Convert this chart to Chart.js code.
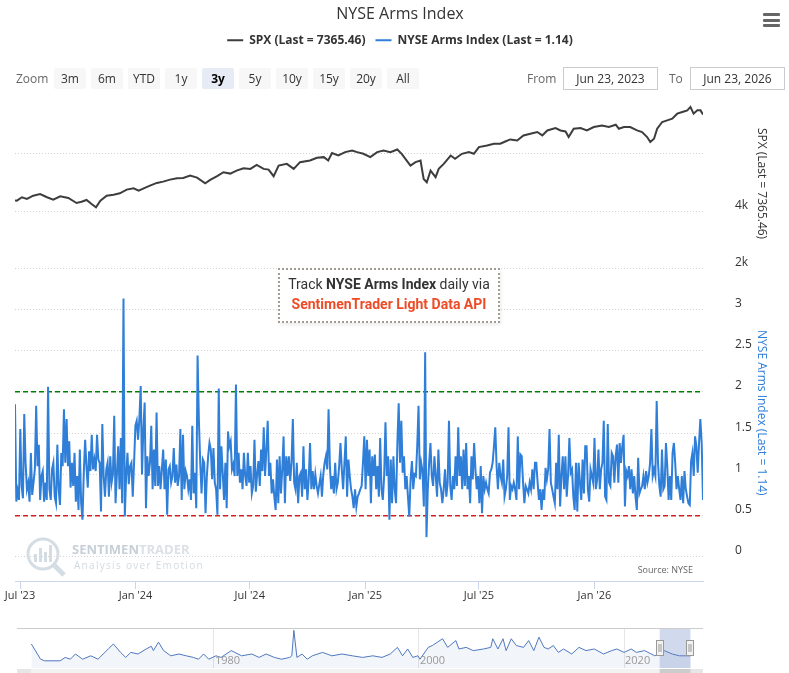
<!DOCTYPE html>
<html>
<head>
<meta charset="utf-8">
<title>NYSE Arms Index</title>
<script src="https://cdn.jsdelivr.net/npm/chart.js@4.4.1/dist/chart.umd.min.js"></script>
<style>
  body { margin: 0; background: #fff; font-family: 'Open Sans', sans-serif; }
  #wrap { position: relative; width: 789px; height: 673px; overflow: hidden; }
  #main { position: absolute; left: 0; top: 0; }
  #nav { position: absolute; left: 0; top: 624px; }
  #menu { position: absolute; left: 763px; top: 13px; width: 17px; }
  #menu span { display: block; height: 3px; background: #666; margin-bottom: 2.5px; border-radius: 1px; }
  .lbl { position: absolute; top: 68px; height: 21px; line-height: 21px; font-size: 12px; color: #666; }
  #zoomBtns { position: absolute; left: 54px; top: 68px; display: flex; gap: 5px; }
  #zoomBtns div { width: 32px; height: 21px; line-height: 21px; text-align: center; font-size: 12px; color: #333; background: #f7f7f7; border-radius: 2px; }
  #zoomBtns div.on { background: #e6ebf5; font-weight: bold; color: #000; }
  .inp { position: absolute; top: 67px; width: 93px; height: 21px; line-height: 21px; border: 1px solid #ccc; font-size: 12px; color: #333; text-align: center; }
  #note { position: absolute; left: 278px; top: 268px; width: 218px; height: 47px; border: 2px dotted #a39c93; background: #fff;
          box-shadow: 1px 2px 4px rgba(0,0,0,0.08); font-family: Roboto, sans-serif; font-size: 14px; text-align: center; line-height: 20px;
          padding-top: 4px; white-space: nowrap; box-sizing: content-box; }
  #note .l1 { color: #333; }
  #note .l2 { color: #ee4b26; font-weight: bold; }
</style>
</head>
<body>
<div id="wrap">
  <canvas id="main" width="789" height="673"></canvas>
  <canvas id="nav" width="789" height="49"></canvas>
  <div id="menu"><span></span><span></span><span></span></div>
  <div class="lbl" style="left:16px">Zoom</div>
  <div id="zoomBtns"></div>
  <div class="lbl" style="left:527px">From</div>
  <div class="inp" style="left:563px">Jun 23, 2023</div>
  <div class="lbl" style="left:669px">To</div>
  <div class="inp" style="left:690px">Jun 23, 2026</div>
  <div id="note"><div class="l1">Track <b>NYSE Arms Index</b> daily via</div><div class="l2">SentimenTrader Light Data API</div></div>
</div>
<script>
// range shown in the main panes
const rangeStart = '2023-06-23';
const rangeEnd = '2026-06-23';

const zoomButtons = ['3m', '6m', 'YTD', '1y', '3y', '5y', '10y', '15y', '20y', 'All'];
const activeZoom = '3y';

const xTickDates = ['2023-07-01', '2024-01-01', '2024-07-01', '2025-01-01', '2025-07-01', '2026-01-01'];
const xTickLabels = ["Jul '23", "Jan '24", "Jul '24", "Jan '25", "Jul '25", "Jan '26"];

const spxTicks = [2000, 4000, 6000];
const spxTickLabels = ['2k', '4k', ''];
const armsTicks = [0, 0.5, 1, 1.5, 2, 2.5, 3];
const armsTickLabels = ['0', '0.5', '1', '1.5', '2', '2.5', '3'];

const highLevel = 2.0;
const lowLevel = 0.5;

// SPX close, day offset from rangeStart
const spxDay = [0,3,11,19,29,40,51,61,72,85,98,106,114,122,129,136,146,157,167,178,189,197,205,215,226,236,247,258,268,279,
  290,303,311,322,332,343,353,364,375,385,396,404,412,420,433,444,454,470,481,492,499,505,515,526,537,545,555,566,577,587,
  598,609,616,624,630,638,646,651,656,662,670,675,683,694,701,712,723,731,739,752,763,773,781,789,800,810,821,832,840,848,
  861,869,877,882,890,901,911,922,935,946,957,962,970,980,991,999,1007,1012,1018,1023,1031,1039,1047,1055,1063,1071,1076,1081,1087,1092,1096];
const spxValue = [4380,4370,4489,4430,4545,4600,4489,4405,4524,4464,4290,4335,4394,4255,4140,4370,4545,4580,4628,4755,
  4800,4720,4800,4893,4988,5033,5103,5152,5162,5243,5173,4977,5093,5221,5361,5312,5417,5500,5476,5616,
  5476,5452,5221,5592,5651,5476,5710,5766,5860,5884,5766,6024,5941,6059,6115,6059,6000,5884,6059,6115,
  6059,6150,6000,5766,5592,5710,5766,5127,5012,5417,5187,5476,5651,5941,5825,6000,6059,6000,6234,6290,
  6349,6349,6429,6500,6464,6639,6698,6757,6639,6813,6897,6813,6778,6583,6872,6897,6813,6932,6988,6932,
  7012,6872,6932,6932,6813,6757,6583,6408,6524,6872,7106,7162,7222,7396,7455,7511,7630,7396,7511,7511,7365];

// NYSE Arms Index (TRIN), sampled evenly across the range
const armsValue = [
  // Jun 2023 - Dec 2023
  1.85,0.67,0.80,0.69,1.55,0.86,0.71,1.73,1.14,0.82,0.90,0.67,1.26,0.75,0.90,1.06,1.83,1.10,1.36,0.69,0.98,1.04,0.67,0.90,0.69,2.06,
  0.82,0.69,1.06,1.14,0.73,0.65,1.36,0.82,0.63,1.26,1.10,1.79,1.14,1.67,1.10,1.40,0.84,1.14,0.86,1.26,0.67,0.98,0.57,1.30,0.65,0.45,
  1.02,1.42,1.10,0.84,1.28,1.04,1.48,1.06,1.18,1.04,1.48,1.18,1.14,0.55,1.61,0.98,0.73,1.06,1.14,0.73,1.22,0.90,1.00,1.71,0.65,1.00,
  1.34,0.82,1.44,0.65,3.13,0.49,0.98,1.26,0.88,1.10,1.14,0.73,1.14,1.59,1.65,1.42,1.67,2.07,1.00,1.55,1.87,0.59,1.22,0.98,1.14,1.59,
  0.82,1.30,0.86,1.75,0.86,1.10,0.82,1.06,1.30,0.82,1.18,0.51,1.06,1.10,0.90,0.98,1.32,0.90,1.12,0.86,0.98,1.55,0.69,1.48,0.82,1.04,
  // 2024
  0.98,0.82,0.94,0.69,1.59,0.77,1.02,0.59,2.44,1.65,1.14,0.77,1.18,1.14,0.53,0.98,1.22,1.38,1.30,0.94,1.32,0.90,0.82,0.51,2.04,0.82,
  1.34,1.02,0.69,1.14,0.59,1.52,1.34,1.40,1.06,1.12,0.98,2.09,0.98,1.26,0.90,1.06,0.82,1.26,0.98,0.86,1.26,0.90,1.10,0.77,0.86,1.42,
  0.79,1.00,1.16,0.86,1.30,1.04,1.57,0.98,1.30,1.65,0.98,1.14,0.77,0.94,0.73,0.57,1.18,0.65,1.22,0.77,1.06,1.46,0.65,1.22,0.98,1.22,
  0.92,1.14,1.67,0.90,0.82,1.14,0.65,0.98,1.02,0.73,1.34,0.82,1.06,0.69,0.94,1.38,0.82,1.04,0.82,1.00,0.86,0.77,0.88,0.98,0.73,1.00,
  1.14,1.22,1.06,1.79,1.10,0.82,0.98,0.77,1.14,0.82,0.90,1.10,1.38,1.06,0.82,1.14,1.46,0.73,1.18,0.98,0.82,0.73,0.59,0.82,0.61,0.73,0.77,0.82,
  // Dec 2024 - Oct 2025
  0.86,1.14,1.46,0.82,1.42,0.98,1.30,0.65,1.22,0.98,1.24,0.82,1.10,0.73,1.44,0.82,0.69,0.98,1.63,0.98,1.22,0.45,1.18,0.65,1.22,0.82,
  0.65,1.38,1.86,1.14,1.65,1.02,1.22,0.82,0.98,0.73,0.49,0.94,1.16,0.82,1.00,0.98,1.34,1.83,0.94,1.14,1.04,0.61,2.48,0.24,0.82,1.14,
  1.38,0.98,0.86,1.22,0.98,0.73,1.30,0.90,0.82,0.65,0.82,1.06,0.73,0.90,1.65,0.86,0.69,0.98,0.82,1.22,0.86,1.57,0.98,1.22,0.82,1.30,
  0.86,1.38,0.82,0.98,0.65,1.22,0.94,1.38,1.06,0.82,0.98,0.65,1.10,0.53,0.98,0.82,0.90,0.82,0.77,1.02,1.06,1.14,1.34,1.57,1.10,0.82,
  1.14,0.98,0.90,1.18,0.73,0.82,0.98,1.57,0.69,0.86,0.82,0.90,0.82,0.69,1.46,0.82,1.24,1.22,0.90,0.65,0.86,0.82,0.77,0.90,0.82,1.06,0.82,1.14,
  // Oct 2025 - Jun 2026
  1.14,0.90,0.69,0.82,0.57,0.82,0.69,1.08,0.94,1.06,1.55,0.90,0.82,0.73,0.65,1.14,0.82,1.48,0.61,0.98,1.22,0.82,1.22,0.73,0.98,1.44,
  1.02,1.06,0.73,0.57,1.14,0.55,1.14,0.90,0.69,1.18,0.77,1.34,1.34,0.82,0.67,1.06,0.98,0.90,1.44,0.82,0.94,1.30,0.82,1.06,1.14,1.65,
  0.73,0.69,1.61,0.90,0.86,1.26,1.22,0.90,1.22,1.36,0.90,1.38,1.14,1.34,1.48,0.61,1.04,0.98,1.10,0.82,1.06,0.77,0.98,0.73,0.57,1.20,
  0.77,0.82,0.86,0.98,0.82,1.04,0.90,0.98,1.14,1.55,0.98,1.06,0.98,1.89,1.14,0.86,0.73,1.30,0.82,0.86,1.38,1.10,0.69,0.98,0.69,1.26,
  1.38,1.14,0.82,0.98,0.82,0.69,0.98,0.65,1.04,0.82,0.73,0.65,0.63,1.16,1.26,0.98,1.46,1.34,1.02,1.38,1.67,1.38,0.69
];

// navigator: long history of the index (smoothed), by year
const navYear = [1962.2,1963.1,1963.5,1965.0,1965.5,1966.0,1966.5,1967.2,1968.0,1968.7,1969.7,1970.2,1970.9,1971.4,1971.9,1972.6,1973.4,1973.9,1974.1,1974.6,
  1975.1,1975.8,1976.6,1977.3,1978.0,1978.5,1979.0,1979.5,1980.2,1980.7,1981.7,1982.7,1983.7,1984.4,1985.1,1985.9,1986.6,1987.4,1987.6,1987.8,
  1988.1,1988.6,1989.1,1989.6,1990.6,1991.5,1992.5,1993.5,1994.5,1995.5,1996.4,1997.2,1997.9,1998.4,1998.9,1999.4,1999.9,2000.1,2000.9,2001.3,
  2002.3,2002.8,2003.6,2003.9,2004.6,2005.3,2006.3,2007.0,2007.2,2007.7,2008.2,2008.5,2009.0,2009.5,2010.2,2010.7,2011.2,2011.7,2012.2,2012.6,
  2013.1,2013.6,2014.1,2014.9,2015.6,2016.3,2017.1,2018.0,2018.8,2019.3,2020.0,2020.7,2021.2,2022.0,2023.0,2023.9,2024.7,2025.4,2026.0,2026.5];
const navValue = [1.74,0.89,0.80,0.80,0.99,0.89,1.18,0.89,1.08,0.89,1.46,1.74,1.27,0.99,1.27,1.18,1.46,1.61,1.37,1.84,
  1.37,1.08,1.18,1.08,0.99,0.89,1.18,0.89,1.08,0.99,1.37,1.08,1.18,0.99,1.18,0.99,0.89,0.99,1.08,2.50,
  0.99,1.18,0.89,1.08,1.27,1.08,1.18,1.08,0.99,1.08,0.99,1.18,1.55,1.08,1.46,0.99,1.08,0.89,1.55,1.65,
  2.03,1.55,1.93,1.46,1.55,1.37,1.46,1.55,2.03,1.46,2.03,1.37,2.03,1.65,1.55,1.93,1.37,2.12,1.55,1.46,
  1.65,1.27,1.46,1.18,1.55,1.37,1.46,1.18,1.37,1.46,1.27,1.46,1.27,1.37,1.08,1.37,1.18,1.08,1.08,1.08];
const navTicks = [1980, 2000, 2020];

const FONT = "'Open Sans', sans-serif";
Chart.defaults.font.family = FONT;

const DAY = 86400000;
function dayOf(s) { return (Date.parse(s) - Date.parse(rangeStart)) / DAY; }
const span = dayOf(rangeEnd);
const xTickDays = xTickDates.map(dayOf);

// range selector buttons
const btnBox = document.getElementById('zoomBtns');
zoomButtons.forEach(b => {
  const el = document.createElement('div');
  el.textContent = b;
  if (b === activeZoom) el.className = 'on';
  btnBox.appendChild(el);
});

const spxPoints = spxDay.map((d, i) => ({ x: d, y: spxValue[i] }));
const armsPoints = armsValue.map((v, i) => ({ x: i * span / (armsValue.length - 1), y: v }));

// push the plot area below the legend to leave room for the zoom row
const legendGap = {
  id: 'legendGap',
  beforeInit(chart) {
    const fit = chart.legend.fit;
    chart.legend.fit = function () {
      fit.call(this);
      this.height += 42;
    };
  }
};

// faint logo watermark and source note
const brand = {
  id: 'brand',
  beforeDatasetsDraw(chart) {
    const ctx = chart.ctx;
    ctx.save();
    ctx.strokeStyle = '#d5dde4';
    ctx.fillStyle = '#d5dde4';
    ctx.lineWidth = 3;
    ctx.beginPath();
    ctx.arc(43, 554, 15, 0, Math.PI * 2);
    ctx.stroke();
    [[35, 8], [40, 14], [45, 10], [50, 17]].forEach(([x, h]) => ctx.fillRect(x - 1, 562 - h, 3, h));
    ctx.lineWidth = 5;
    ctx.beginPath();
    ctx.moveTo(54, 565);
    ctx.lineTo(64, 575);
    ctx.stroke();
    ctx.textBaseline = 'middle';
    ctx.font = 'bold 13px ' + FONT;
    ctx.fillStyle = '#c7d0d8';
    ctx.fillText('SENTIMEN', 72, 550);
    const w = ctx.measureText('SENTIMEN').width;
    ctx.fillStyle = '#dbe1e6';
    ctx.fillText('TRADER', 72 + w, 550);
    ctx.font = '10px ' + FONT;
    ctx.letterSpacing = '1.3px';
    ctx.fillStyle = '#d3dae0';
    ctx.fillText('Analysis over Emotion', 74, 566);
    ctx.restore();
  },
  afterDatasetsDraw(chart) {
    const ctx = chart.ctx;
    ctx.save();
    ctx.font = '9px ' + FONT;
    ctx.fillStyle = '#666';
    ctx.textAlign = 'right';
    ctx.textBaseline = 'middle';
    ctx.fillText('Source: NYSE', 693, 570);
    ctx.restore();
  }
};

const gridDots = { color: '#d2d2d2', drawTicks: false };

new Chart(document.getElementById('main'), {
  type: 'line',
  data: {
    datasets: [
      { label: 'SPX (Last = 7365.46)', data: spxPoints, yAxisID: 'ySpx', borderColor: '#3d3d3d', backgroundColor: '#3d3d3d', borderWidth: 2, pointRadius: 0 },
      { label: 'NYSE Arms Index (Last = 1.14)', data: armsPoints, yAxisID: 'yArms', borderColor: '#2f7ed8', backgroundColor: '#2f7ed8', borderWidth: 2, pointRadius: 0 },
      { label: 'high', data: [{ x: 0, y: highLevel }, { x: span, y: highLevel }], yAxisID: 'yArms', borderColor: '#008000', borderWidth: 1.5, borderDash: [5, 3], pointRadius: 0 },
      { label: 'low', data: [{ x: 0, y: lowLevel }, { x: span, y: lowLevel }], yAxisID: 'yArms', borderColor: '#d62020', borderWidth: 1.5, borderDash: [5, 3], pointRadius: 0 }
    ]
  },
  options: {
    responsive: false,
    animation: false,
    devicePixelRatio: 1,
    layout: { padding: { left: 15, right: 4, top: 0, bottom: 70 } },
    plugins: {
      title: { display: true, text: 'NYSE Arms Index', color: '#333', font: { size: 16, weight: 'normal' }, padding: { top: 5, bottom: 0 } },
      legend: {
        labels: {
          usePointStyle: true, pointStyle: 'line', pointStyleWidth: 16, padding: 10,
          color: '#333', font: { size: 12, weight: 'bold' },
          filter: item => item.datasetIndex < 2
        }
      },
      tooltip: { enabled: false }
    },
    scales: {
      x: {
        type: 'linear', min: 0, max: span,
        afterBuildTicks: ax => { ax.ticks = xTickDays.map(v => ({ value: v })); },
        afterFit: ax => { ax.height = 22; },
        ticks: {
          autoSkip: false, maxRotation: 0, padding: 0, color: '#333', font: { size: 11 },
          callback: v => { const i = xTickDays.indexOf(v); return i >= 0 ? xTickLabels[i] : ''; }
        },
        grid: { drawOnChartArea: false, color: '#ccd6eb', tickLength: 8 },
        border: { color: '#ccd6eb' }
      },
      ySpx: {
        type: 'linear', position: 'right', stack: 'panes', stackWeight: 170,
        min: 2000, max: 7934,
        afterBuildTicks: ax => { ax.ticks = spxTicks.map(v => ({ value: v })); },
        afterFit: ax => { ax.width = 82; },
        ticks: { padding: 32, labelOffset: -6, color: '#333', font: { size: 12 },
                 callback: v => spxTickLabels[spxTicks.indexOf(v)] || '' },
        grid: gridDots,
        border: { display: false, dash: [1, 2] },
        title: { display: true, text: 'SPX (Last = 7365.46)', color: '#333', font: { size: 12 }, padding: { top: 16, bottom: 0 } }
      },
      yArms: {
        type: 'linear', position: 'right', stack: 'panes', stackWeight: 287,
        min: 0, max: 3.49,
        afterBuildTicks: ax => { ax.ticks = armsTicks.map(v => ({ value: v })); },
        afterFit: ax => { ax.width = 82; },
        ticks: { padding: 32, labelOffset: -6, color: '#333', font: { size: 12 },
                 callback: v => armsTickLabels[armsTicks.indexOf(v)] || '' },
        grid: gridDots,
        border: { display: false, dash: [1, 2] },
        title: { display: true, text: 'NYSE Arms Index (Last = 1.14)', color: '#2f7ed8', font: { size: 12 }, padding: { top: 16, bottom: 0 } }
      },
      yPad: { type: 'linear', position: 'right', stack: 'panes', stackWeight: 24, display: false }
    }
  },
  plugins: [legendGap, brand]
});

// ---- navigator ----
const navFrom = 2023 + 174 / 365;
const navTo = 2026 + 174 / 365;

const navDecor = {
  id: 'navDecor',
  afterDraw(chart) {
    const ctx = chart.ctx;
    const a = chart.chartArea;
    const xs = chart.scales.x;
    const x0 = xs.getPixelForValue(navFrom);
    const x1 = xs.getPixelForValue(navTo);
    ctx.save();
    ctx.font = '11px ' + FONT;
    ctx.fillStyle = '#999';
    ctx.textBaseline = 'middle';
    navTicks.forEach(t => ctx.fillText(String(t), xs.getPixelForValue(t) + 1, a.bottom - 7));
    ctx.fillStyle = 'rgba(102,133,194,0.3)';
    ctx.fillRect(x0, a.top, x1 - x0, a.bottom - a.top);
    ctx.strokeStyle = '#cccccc';
    ctx.lineWidth = 1;
    ctx.beginPath();
    ctx.moveTo(a.left, a.top + 0.5);
    ctx.lineTo(a.right, a.top + 0.5);
    ctx.stroke();
    // scrollbar
    ctx.fillStyle = '#f2f2f2';
    ctx.fillRect(a.left, a.bottom + 1, a.right - a.left, 4);
    ctx.fillStyle = '#e6e6e6';
    ctx.fillRect(a.left, a.bottom + 1, 14, 4);
    ctx.fillRect(a.right - 14, a.bottom + 1, 14, 4);
    ctx.fillStyle = '#cccccc';
    ctx.fillRect(x0, a.bottom + 1, x1 - x0, 4);
    // handles
    [x0, x1].forEach(hx => {
      const x = Math.round(hx) - 3.5;
      ctx.fillStyle = '#f2f2f2';
      ctx.strokeStyle = '#999';
      ctx.fillRect(x, a.top + 12.5, 7, 15);
      ctx.strokeRect(x, a.top + 12.5, 7, 15);
      ctx.beginPath();
      ctx.moveTo(x + 2.5, a.top + 16); ctx.lineTo(x + 2.5, a.top + 24);
      ctx.moveTo(x + 4.5, a.top + 16); ctx.lineTo(x + 4.5, a.top + 24);
      ctx.stroke();
    });
    ctx.restore();
  }
};

new Chart(document.getElementById('nav'), {
  type: 'line',
  data: {
    datasets: [{
      data: navYear.map((y, i) => ({ x: y, y: navValue[i] })),
      borderColor: '#4f78c0', borderWidth: 1, pointRadius: 0,
      fill: 'start', backgroundColor: 'rgba(69,114,167,0.07)'
    }]
  },
  options: {
    responsive: false,
    animation: false,
    devicePixelRatio: 1,
    layout: { padding: { left: 17, right: 86, top: 4, bottom: 5 } },
    plugins: { legend: { display: false }, tooltip: { enabled: false } },
    scales: {
      x: {
        type: 'linear', min: 1960.8, max: 2027.7,
        afterBuildTicks: ax => { ax.ticks = navTicks.map(v => ({ value: v })); },
        afterFit: ax => { ax.height = 0; },
        ticks: { display: false },
        grid: { color: '#e6e6e6', drawTicks: false },
        border: { display: false }
      },
      y: { display: false, min: 0.4, max: 2.63 }
    }
  },
  plugins: [navDecor]
});
</script>
</body>
</html>
